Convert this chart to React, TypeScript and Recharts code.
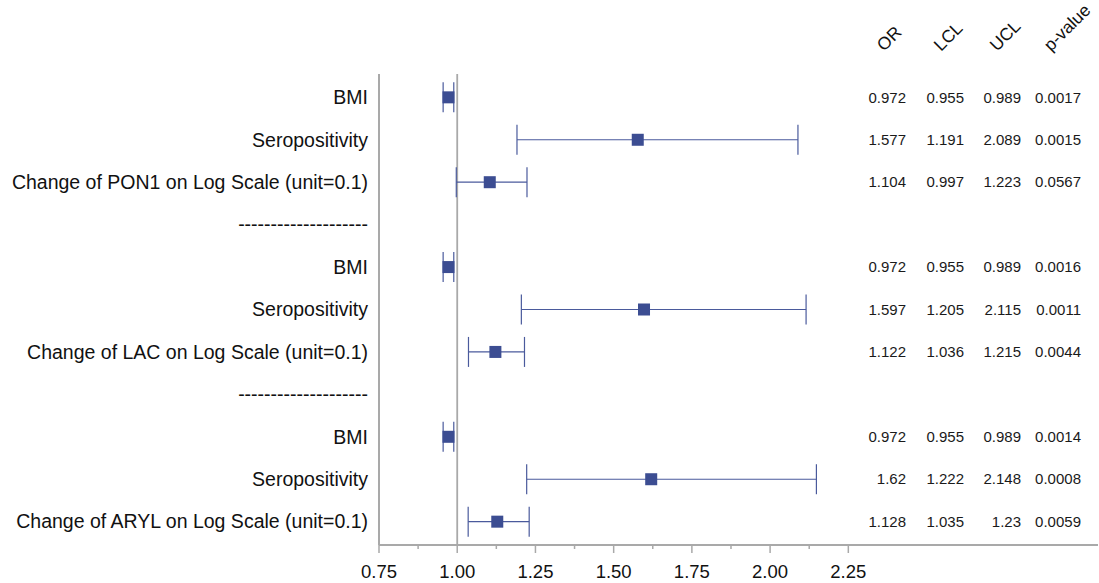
import {
  ScatterChart,
  Scatter,
  XAxis,
  YAxis,
  ErrorBar,
  ReferenceLine,
} from "recharts";

const rowLabels = [
  "BMI",
  "Seropositivity",
  "Change of PON1 on Log Scale (unit=0.1)",
  "--------------------",
  "BMI",
  "Seropositivity",
  "Change of LAC on Log Scale (unit=0.1)",
  "--------------------",
  "BMI",
  "Seropositivity",
  "Change of ARYL on Log Scale (unit=0.1)",
];
const orValues = [0.972, 1.577, 1.104, null, 0.972, 1.597, 1.122, null, 0.972, 1.62, 1.128];
const lclValues = [0.955, 1.191, 0.997, null, 0.955, 1.205, 1.036, null, 0.955, 1.222, 1.035];
const uclValues = [0.989, 2.089, 1.223, null, 0.989, 2.115, 1.215, null, 0.989, 2.148, 1.23];
const pValues = ["0.0017", "0.0015", "0.0567", null, "0.0016", "0.0011", "0.0044", null, "0.0014", "0.0008", "0.0059"];

const tableHeaders = ["OR", "LCL", "UCL", "p-value"];
const majorTicks = [0.75, 1.0, 1.25, 1.5, 1.75, 2.0, 2.25];
const minorTicks = [0.875, 1.125, 1.375, 1.625, 1.875, 2.125];

const FONT = "'Liberation Sans', Arial, sans-serif";
const GRID = "#a9a9a9";
const MARK = "#3c4d92";

const points = orValues
  .map((or, i) => ({
    row: i,
    or,
    err: or == null ? null : [or - (lclValues[i] as number), (uclValues[i] as number) - or],
  }))
  .filter((d) => d.or != null);

const rowTicks = rowLabels.map((_, i) => i);
const allTicks = [...majorTicks, ...minorTicks].sort((a, b) => a - b);
const colX = [906, 964, 1021, 1081];
const headerX = [884, 941, 997, 1051];
const headerY = 52;

const fmt = (v: number | null) => (v == null ? "" : String(v));

function RowTick(props: any) {
  const { x, y, payload } = props;
  const i = payload.value as number;
  const cells = [fmt(orValues[i]), fmt(lclValues[i]), fmt(uclValues[i]), pValues[i] ?? ""];
  return (
    <g>
      <text x={x - 11} y={y} dy="0.35em" textAnchor="end" fontSize={19.5} fill="#111" fontFamily={FONT}>
        {rowLabels[i]}
      </text>
      {cells.map((c, k) => (
        <text key={k} x={colX[k]} y={y} dy="0.35em" textAnchor="end" fontSize={15} fill="#1a1a1a" fontFamily={FONT}>
          {c}
        </text>
      ))}
    </g>
  );
}

function XTick(props: any) {
  const { x, y, payload } = props;
  const major = majorTicks.some((m) => Math.abs(m - payload.value) < 1e-9);
  return (
    <g>
      <line x1={x} x2={x} y1={y} y2={y + (major ? 8 : 4)} stroke={GRID} strokeWidth={1.5} />
      {major && (
        <text x={x} y={y + 33} textAnchor="middle" fontSize={18.5} fill="#111" fontFamily={FONT}>
          {Number(payload.value).toFixed(2)}
        </text>
      )}
    </g>
  );
}

function Square(props: any) {
  const { cx, cy } = props;
  return <rect x={cx - 6} y={cy - 6} width={12} height={12} fill={MARK} />;
}

export default function App() {
  return (
    <div style={{ position: "absolute", left: 0, top: 0, width: 1099, height: 583, background: "#fff" }}>
      <ScatterChart width={1099} height={583} margin={{ top: 74, right: 1, bottom: 0, left: 0 }}>
        <XAxis
          type="number"
          dataKey="or"
          domain={[0.75, 3.048]}
          ticks={allTicks}
          interval={0}
          tick={<XTick />}
          tickLine={false}
          tickSize={0}
          tickMargin={0}
          height={38}
          axisLine={{ stroke: GRID, strokeWidth: 2 }}
          allowDataOverflow
        />
        <XAxis
          xAxisId="top"
          orientation="top"
          type="number"
          domain={[0.75, 3.048]}
          tick={false}
          tickLine={false}
          height={0}
          axisLine={{ stroke: GRID, strokeWidth: 2 }}
          allowDataOverflow
        />
        <YAxis
          type="number"
          dataKey="row"
          domain={[-0.55, 10.55]}
          reversed
          ticks={rowTicks}
          interval={0}
          width={379}
          tick={<RowTick />}
          tickLine={false}
          tickSize={0}
          tickMargin={0}
          axisLine={{ stroke: GRID, strokeWidth: 2 }}
          allowDataOverflow
        />
        <ReferenceLine x={1} stroke={GRID} strokeWidth={1.8} />
        <Scatter data={points} shape={<Square />} isAnimationActive={false}>
          <ErrorBar dataKey="err" direction="x" width={15} stroke="#4a5a9c" strokeWidth={1.2} />
        </Scatter>
      </ScatterChart>
      <svg width={1099} height={583} style={{ position: "absolute", left: 0, top: 0, pointerEvents: "none" }}>
        {tableHeaders.map((h, k) => (
          <text
            key={h}
            x={headerX[k]}
            y={headerY}
            fontSize={17.5}
            fill="#111"
            fontFamily={FONT}
            transform={`rotate(-45 ${headerX[k]} ${headerY})`}
          >
            {h}
          </text>
        ))}
      </svg>
    </div>
  );
}
